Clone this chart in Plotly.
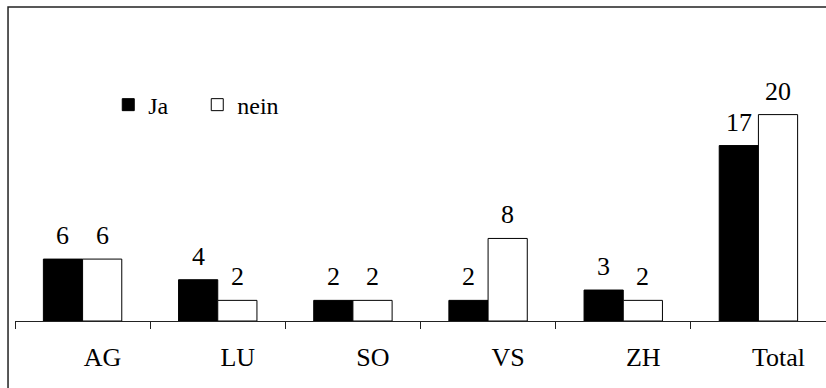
import plotly.graph_objects as go

# Survey answers per canton
categories = ["AG", "LU", "SO", "VS", "ZH", "Total"]
ja_values = [6, 4, 2, 2, 3, 17]
nein_values = [6, 2, 2, 8, 2, 20]

FONT = "Liberation Serif, Times New Roman, serif"
FS = 26

# geometry of the grouped bars (pixels), used to centre value labels
PLOT_W = 826 - 15
BARGAP = 0.42
BAR_W = PLOT_W / len(categories) * (1 - BARGAP) / 2

fig = go.Figure()
fig.add_trace(go.Bar(
    name="Ja", x=categories, y=ja_values,
    marker=dict(color="black", line=dict(color="black", width=1)),
))
fig.add_trace(go.Bar(
    name="nein", x=categories, y=nein_values,
    marker=dict(color="white", line=dict(color="black", width=1)),
))

annotations = []
for vals, side in ((ja_values, -1), (nein_values, 1)):
    for cat, v in zip(categories, vals):
        annotations.append(dict(
            x=cat, y=v, xref="x", yref="y", text=str(v), showarrow=False,
            xshift=side * BAR_W / 2, yshift=7, yanchor="bottom",
            font=dict(family=FONT, size=FS, color="black"),
        ))

fig.update_layout(
    width=826, height=388,
    margin=dict(l=15, r=0, t=63, b=67),
    paper_bgcolor="white", plot_bgcolor="white",
    font=dict(family=FONT, size=FS, color="black"),
    barmode="group", bargap=BARGAP, bargroupgap=0,
    showlegend=True,
    legend=dict(
        orientation="h", x=0.115, y=0.837, xanchor="left", yanchor="middle",
        font=dict(family=FONT, size=FS - 2, color="black"),
        bgcolor="rgba(0,0,0,0)", itemwidth=30,
        entrywidth=44, entrywidthmode="pixels",
        traceorder="normal",
    ),
    xaxis=dict(
        showline=True, linecolor="#222", linewidth=1,
        ticks="outside", ticklen=7, tickcolor="#222", tickwidth=1,
        tickson="boundaries", ticklabelshift=20, ticklabelstandoff=13,
        showgrid=False, zeroline=False,
        tickfont=dict(family=FONT, size=FS, color="black"),
        fixedrange=True,
    ),
    yaxis=dict(visible=False, range=[0, 25], fixedrange=True),
    annotations=annotations,
    shapes=[dict(
        type="rect", xref="paper", yref="paper",
        x0=-0.0086, x1=1.05, y0=-0.5, y1=1.217,
        line=dict(color="#222", width=1.5), fillcolor="rgba(0,0,0,0)",
        layer="above",
    )],
)

fig.write_html("out.html")
